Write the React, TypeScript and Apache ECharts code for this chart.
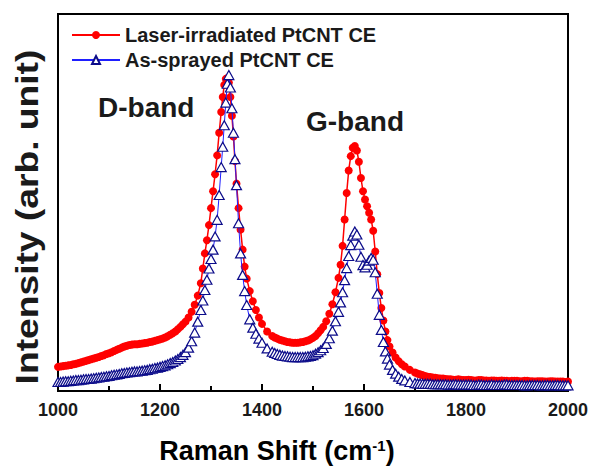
import React, { useEffect, useRef } from "react";
import * as echarts from "echarts";

// Segment A: 1000-1250 cm-1
const shiftA = [
  1000, 1005, 1010, 1015, 1020, 1025, 1030, 1035, 1040, 1045,
  1050, 1055, 1060, 1065, 1070, 1075, 1080, 1085, 1090, 1095,
  1100, 1105, 1110, 1115, 1120, 1125, 1130, 1135, 1140, 1145,
  1150, 1155, 1160, 1165, 1170, 1175, 1180, 1185, 1190, 1195,
  1200, 1205, 1210, 1215, 1220, 1225, 1230, 1235, 1240, 1245,
  1250,
];
const laserA = [
  6.4, 6.5, 6.6, 6.7, 6.8, 6.9, 7.1, 7.2, 7.4, 7.6,
  7.8, 8.0, 8.2, 8.4, 8.6, 8.8, 9.0, 9.3, 9.5, 9.8,
  10.0, 10.3, 10.6, 10.9, 11.2, 11.5, 11.8, 12.0, 12.2, 12.3,
  12.4, 12.4, 12.5, 12.6, 12.7, 12.8, 13.0, 13.1, 13.3, 13.5,
  13.7, 13.9, 14.2, 14.5, 14.9, 15.3, 15.8, 16.4, 17.0, 17.7,
  18.4,
];
const sprayA = [
  2.4, 2.4, 2.5, 2.6, 2.6, 2.7, 2.8, 2.9, 2.9, 3.0,
  3.1, 3.2, 3.2, 3.3, 3.4, 3.5, 3.6, 3.7, 3.8, 3.9,
  4.0, 4.2, 4.3, 4.4, 4.5, 4.7, 4.8, 4.9, 5.0, 5.1,
  5.2, 5.2, 5.3, 5.4, 5.5, 5.6, 5.8, 5.9, 6.1, 6.2,
  6.4, 6.6, 6.8, 7.1, 7.4, 7.7, 8.1, 8.5, 9.0, 9.6,
  10.3,
];

// Segment B: D-band, 1256-1420 cm-1
const shiftB = [
  1256, 1262, 1268, 1274, 1280, 1284, 1288, 1292, 1296, 1300,
  1304, 1308, 1312, 1316, 1320, 1323, 1326, 1329, 1332, 1335,
  1338, 1341, 1344, 1347, 1350, 1354, 1358, 1362, 1366, 1370,
  1376, 1382, 1388, 1394, 1400, 1410, 1420,
];
const laserB = [
  19.5, 21.0, 22.9, 25.3, 28.6, 32.5, 36.5, 40.0, 44.0, 48.5,
  53.0, 57.5, 62.5, 68.5, 74.0, 78.0, 81.2, 82.8, 83.0, 81.8,
  78.0, 73.0, 67.5, 61.0, 55.0, 48.5, 42.8, 37.5, 33.0, 29.8,
  26.5, 23.8, 21.5, 19.5, 17.8, 15.8, 14.6,
];
const sprayB = [
  11.5, 13.2, 15.5, 18.4, 21.5, 24.0, 26.8, 29.5, 32.5, 35.0,
  37.5, 41.0, 45.4, 52.0, 59.4, 64.8, 70.5, 76.5, 81.5, 83.8,
  80.5, 75.0, 68.5, 61.5, 54.6, 44.5, 36.5, 30.8, 26.5, 22.8,
  19.0, 16.8, 15.2, 13.9, 12.8, 11.3, 10.4,
];

// Segment C: valley, 1425-1520 cm-1
const shiftC = [
  1425, 1430, 1435, 1440, 1445, 1450, 1455, 1460, 1465, 1470,
  1475, 1480, 1485, 1490, 1495, 1500, 1505, 1510, 1515, 1520,
];
const laserC = [
  14.2, 13.9, 13.6, 13.4, 13.2, 13.0, 12.9, 12.8, 12.8, 12.8,
  12.9, 13.0, 13.2, 13.4, 13.7, 14.1, 14.6, 15.3, 16.1, 17.0,
];
const sprayC = [
  10.1, 9.8, 9.6, 9.4, 9.3, 9.2, 9.1, 9.0, 9.0, 9.0,
  9.0, 9.0, 9.1, 9.2, 9.3, 9.5, 9.9, 10.3, 10.8, 11.4,
];

// Segment D: G-band, 1526-1700 cm-1
const shiftD = [
  1526, 1532, 1538, 1544, 1550, 1554, 1558, 1562, 1566, 1570,
  1574, 1578, 1582, 1586, 1590, 1594, 1598, 1602, 1606, 1610,
  1614, 1618, 1622, 1626, 1630, 1634, 1638, 1642, 1646, 1650,
  1656, 1662, 1668, 1674, 1680, 1690, 1700,
];
const laserD = [
  18.5, 20.5, 23.0, 26.2, 30.0, 33.5, 38.5, 45.5, 52.5, 58.5,
  62.3, 64.5, 65.0, 63.8, 60.8, 56.5, 53.0, 50.8, 49.0, 47.3,
  45.5, 42.5, 37.0, 31.0, 26.0, 22.0, 18.7, 15.8, 13.5, 11.8,
  10.2, 8.9, 7.9, 7.1, 6.5, 5.6, 4.9,
];
const sprayD = [
  12.5, 14.0, 16.0, 18.5, 21.0, 23.5, 26.2, 29.4, 32.6, 35.8,
  38.7, 41.2, 42.3, 41.5, 38.8, 35.6, 33.4, 32.8, 33.5, 34.6,
  35.3, 34.8, 31.5, 25.8, 20.2, 16.2, 13.0, 10.5, 8.6, 7.0,
  5.6, 4.6, 3.8, 3.2, 2.8, 2.4, 2.1,
];

// Segment E: tail, 1705-2000 cm-1
const shiftE = [
  1705, 1710, 1715, 1720, 1725, 1730, 1735, 1740, 1745, 1750,
  1755, 1760, 1765, 1770, 1775, 1780, 1785, 1790, 1795, 1800,
  1805, 1810, 1815, 1820, 1825, 1830, 1835, 1840, 1845, 1850,
  1855, 1860, 1865, 1870, 1875, 1880, 1885, 1890, 1895, 1900,
  1905, 1910, 1915, 1920, 1925, 1930, 1935, 1940, 1945, 1950,
  1955, 1960, 1965, 1970, 1975, 1980, 1985, 1990, 1995, 2000,
];
const laserE = [
  4.6, 4.4, 4.2, 4.0, 3.8, 3.7, 3.6, 3.5, 3.4, 3.3,
  3.3, 3.2, 3.1, 3.1, 3.0, 3.0, 3.1, 3.0, 2.9, 2.9,
  3.0, 2.9, 2.8, 2.8, 2.9, 2.9, 2.8, 2.8, 2.7, 2.8,
  2.8, 2.7, 2.7, 2.8, 2.7, 2.7, 2.6, 2.7, 2.7, 2.7,
  2.6, 2.6, 2.7, 2.7, 2.6, 2.6, 2.5, 2.6, 2.6, 2.6,
  2.5, 2.5, 2.6, 2.6, 2.5, 2.5, 2.5, 2.5, 2.4, 2.5,
];
const sprayE = [
  2.0, 2.0, 1.9, 1.9, 1.9, 1.9, 1.8, 1.8, 1.8, 1.8,
  1.8, 1.8, 1.7, 1.7, 1.8, 1.8, 1.7, 1.7, 1.7, 1.7,
  1.7, 1.7, 1.6, 1.6, 1.7, 1.7, 1.6, 1.6, 1.6, 1.7,
  1.6, 1.6, 1.6, 1.6, 1.7, 1.7, 1.6, 1.6, 1.6, 1.6,
  1.6, 1.6, 1.5, 1.5, 1.6, 1.6, 1.6, 1.6, 1.5, 1.5,
  1.6, 1.6, 1.5, 1.5, 1.6, 1.6, 1.5, 1.5, 1.5, 1.5,
];

const ramanShift = [...shiftA, ...shiftB, ...shiftC, ...shiftD, ...shiftE];
const laserIrradiated = [...laserA, ...laserB, ...laserC, ...laserD, ...laserE];
const asSprayed = [...sprayA, ...sprayB, ...sprayC, ...sprayD, ...sprayE];

const xTicks = { min: 1000, max: 2000, interval: 200 };
const seriesNames = ["Laser-irradiated PtCNT CE", "As-sprayed PtCNT CE"];
const bandLabels = ["D-band", "G-band"];

const FONT = "'Liberation Sans', Arial, sans-serif";

export default function App() {
  const ref = useRef<HTMLDivElement>(null);
  useEffect(() => {
    if (!ref.current) return;
    const chart = echarts.init(ref.current, undefined, { renderer: "svg" });
    const red = ramanShift.map((x, i) => [x, laserIrradiated[i]]);
    const blue = ramanShift.map((x, i) => [x, asSprayed[i]]);
    chart.setOption({
      animation: false,
      backgroundColor: "#ffffff",
      grid: {
        left: 58,
        right: 24,
        top: 14,
        bottom: 75,
        show: true,
        borderColor: "#000",
        borderWidth: 2,
        containLabel: false,
      },
      legend: {
        orient: "vertical",
        left: 66,
        top: 20,
        itemWidth: 48,
        itemHeight: 10,
        itemGap: 5,
        textStyle: { fontFamily: FONT, fontWeight: "bold", fontSize: 20, color: "#1a1a1a" },
        data: seriesNames,
      },
      xAxis: {
        type: "value",
        min: xTicks.min,
        max: xTicks.max,
        interval: xTicks.interval,
        axisLine: { show: true, lineStyle: { color: "#000", width: 2 } },
        axisTick: { show: true, inside: true, length: 7, lineStyle: { color: "#000", width: 2 } },
        minorTick: { show: true, splitNumber: 2, length: 5, lineStyle: { color: "#000", width: 2 } },
        axisLabel: {
          margin: 10,
          fontFamily: FONT,
          fontWeight: "bold",
          fontSize: 18,
          color: "#1a1a1a",
          formatter: (v: number) => String(v),
        },
        splitLine: { show: false },
      },
      yAxis: {
        type: "value",
        min: 0,
        max: 100,
        axisLine: { show: true, lineStyle: { color: "#000", width: 2 } },
        axisTick: { show: false },
        axisLabel: { show: false },
        splitLine: { show: false },
      },
      series: [
        {
          name: seriesNames[0],
          type: "line",
          data: red,
          symbol: "circle",
          symbolSize: 8,
          showAllSymbol: true,
          itemStyle: { color: "#ff0000", borderWidth: 0 },
          lineStyle: { color: "#ff0000", width: 1.5 },
          z: 2,
        },
        {
          name: seriesNames[1],
          type: "line",
          data: blue,
          symbol: "triangle",
          symbolSize: [10, 9],
          showAllSymbol: true,
          itemStyle: { color: "#ffffff", borderColor: "#0c0c8a", borderWidth: 1.2 },
          lineStyle: { color: "#1f1fff", width: 1 },
          z: 3,
        },
      ],
      graphic: [
        {
          type: "text",
          x: 98,
          y: 107,
          style: {
            text: bandLabels[0],
            font: `bold 28px ${FONT}`,
            fill: "#1a1a1a",
            textAlign: "left",
            textVerticalAlign: "middle",
          },
        },
        {
          type: "text",
          x: 306,
          y: 121,
          style: {
            text: bandLabels[1],
            font: `bold 28px ${FONT}`,
            fill: "#1a1a1a",
            textAlign: "left",
            textVerticalAlign: "middle",
          },
        },
        {
          type: "text",
          x: 277,
          y: 451,
          style: {
            text: "{a|Raman Shift (cm}{b|-1}{a|)}",
            textAlign: "center",
            textVerticalAlign: "middle",
            rich: {
              a: { fontFamily: FONT, fontWeight: "bold", fontSize: 27, color: "#1a1a1a", verticalAlign: "bottom" },
              b: { fontFamily: FONT, fontWeight: "bold", fontSize: 15, color: "#1a1a1a", verticalAlign: "top" },
            },
          },
        },
        {
          type: "text",
          x: 27,
          y: 217,
          rotation: Math.PI / 2,
          scaleX: 1.2,
          style: {
            text: "Intensity (arb. unit)",
            font: `bold 31px ${FONT}`,
            fill: "#1a1a1a",
            textAlign: "center",
            textVerticalAlign: "middle",
          },
        },
      ],
    });
    return () => chart.dispose();
  }, []);
  return <div ref={ref} style={{ position: "fixed", left: 0, top: 0, width: 592, height: 466 }} />;
}
